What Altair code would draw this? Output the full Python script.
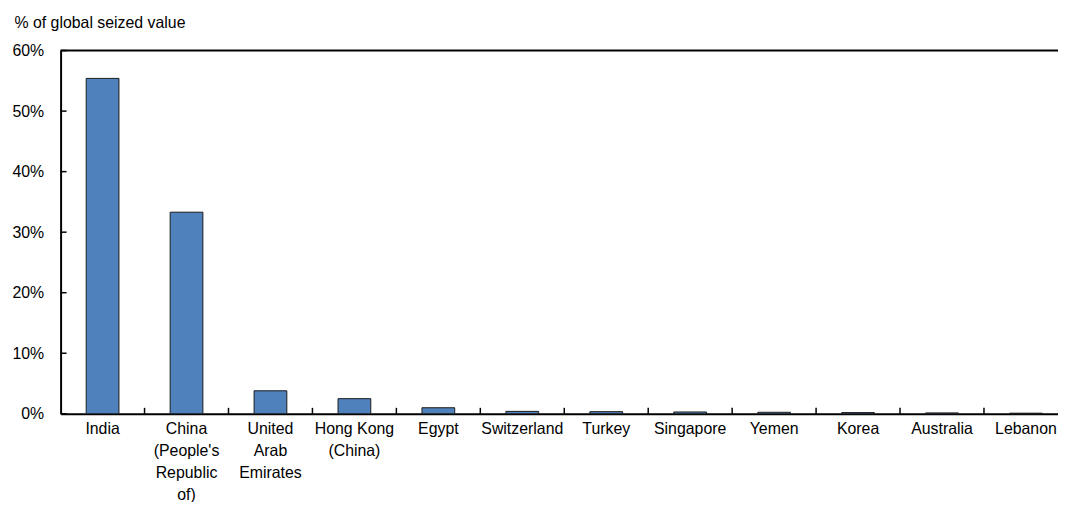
import altair as alt
import pandas as pd

categories = ["India", "China|(People's|Republic|of)", "United|Arab|Emirates", "Hong Kong|(China)",
              "Egypt", "Switzerland", "Turkey", "Singapore", "Yemen", "Korea", "Australia", "Lebanon"]
values = [55.4, 33.3, 3.8, 2.5, 1.0, 0.4, 0.35, 0.3, 0.25, 0.2, 0.15, 0.1]
y_ticks = [0, 10, 20, 30, 40, 50, 60]
y_title = "% of global seized value"

df = pd.DataFrame({"country": categories, "value": values})
df_ticks = pd.DataFrame({"v": y_ticks})
df_one = pd.DataFrame({"a": [0]})

FONT = "Liberation Sans"
W, H = 1005, 366
XRANGE = 1015

xscale = alt.Scale(range=[0, XRANGE], paddingInner=0, paddingOuter=0)
yscale = alt.Scale(domain=[0, 60], nice=False)

x_enc = alt.X(
    "country:N", sort=categories, scale=xscale,
    axis=alt.Axis(
        title=None, labelAngle=0, labelExpr="split(datum.label, '|')",
        ticks=False, domain=True, domainColor="black", domainWidth=2,
        grid=True, gridColor="white", gridWidth=1.5, bandPosition=0,
        labelFont=FONT, labelFontSize=16, labelColor="black",
        labelLineHeight=22, labelPadding=7, labelOverlap=False, labelBound=False,
    ),
)
y_enc = alt.Y(
    "value:Q", scale=yscale,
    axis=alt.Axis(
        title=y_title, titleAngle=0, titleAlign="left", titleBaseline="top",
        titleX=-47, titleY=-36, titleFont=FONT, titleFontSize=16,
        titleFontWeight="normal", titleColor="black",
        values=y_ticks, labelExpr="datum.value + '%'", ticks=False,
        labelPadding=17, labelFont=FONT, labelFontSize=16, labelColor="black",
        domain=True, domainColor="black", domainWidth=2,
        grid=True, gridColor="white", gridWidth=1.5,
    ),
)

bars = alt.Chart(df).mark_bar(
    width={"band": 0.39}, color="#4F81BD", stroke="#1a1a1a", strokeWidth=1
).encode(x=x_enc, y=y_enc)

ytick_marks = alt.Chart(df_ticks).mark_rule(color="black", strokeWidth=1.5).encode(
    y=alt.Y("v:Q", scale=yscale),
    x=alt.value(0), x2=alt.value(6),
)

xtick_marks = alt.Chart(df.iloc[1:]).mark_rule(color="black", strokeWidth=1.5).encode(
    x=alt.X("country:N", sort=categories, scale=xscale, bandPosition=0),
    y=alt.value(H - 6), y2=alt.value(H),
)

top_line = alt.Chart(df_one).mark_rule(color="black", strokeWidth=2).encode(
    x=alt.value(0), x2=alt.value(XRANGE), y=alt.value(0),
)

chart = alt.layer(bars, ytick_marks, xtick_marks, top_line).properties(
    width=W, height=H,
    autosize=alt.AutoSizeParams(type="none"),
    padding={"left": 53, "top": 41, "right": 0, "bottom": 87},
).configure_view(
    fill="#F0FFFF", strokeWidth=0
).configure(background="white")

chart.save("out.html", embed_options={"renderer": "svg", "actions": False})
